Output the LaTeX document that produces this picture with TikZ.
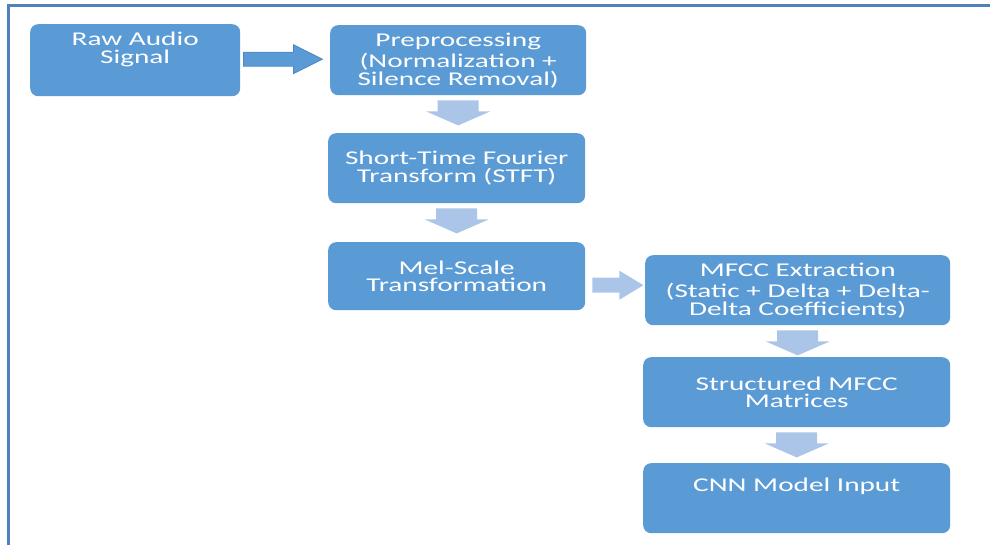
\documentclass[tikz,border=0pt]{standalone}
\usepackage{fontspec}
\newfontfamily\boxfont[FakeStretch=1.5]{Carlito}
\usetikzlibrary{calc}
\definecolor{boxblue}{HTML}{5B9BD5}
\definecolor{arrowlight}{HTML}{ABC5E8}
\definecolor{frameblue}{HTML}{4F81BD}
\definecolor{arrowedge}{HTML}{4A87C6}
\tikzset{
  box/.style={fill=boxblue, rounded corners=8pt, draw=none, inner sep=0pt,
    text=white, align=center, anchor=north west,
    font=\boxfont\fontsize{19.5}{17.5}\selectfont},
  boxtxt/.style={inner sep=0pt, text=white, align=center, anchor=north,
    font=\boxfont\fontsize{19.5}{17.5}\selectfont},
  pics/downarrow/.style={code={
    \fill[arrowlight] (-20.5,0) -- (20.5,0) -- (20.5,11) -- (32,11) -- (0,25)
      -- (-32,11) -- (-20.5,11) -- cycle;}},
  pics/rightlight/.style={code={
    \fill[arrowlight] (0,-7.5) -- (27,-7.5) -- (27,-14.5) -- (51,0) -- (27,14.5)
      -- (27,7.5) -- (0,7.5) -- cycle;}},
  pics/rightdark/.style={code={
    \filldraw[fill=boxblue, draw=arrowedge, line width=0.8pt] (0,-7) -- (50,-7)
      -- (50,-14.5) -- (79,0) -- (50,14.5) -- (50,7) -- (0,7) -- cycle;}},
}
\begin{document}
\begin{tikzpicture}[x=1pt, y=-1pt]
\useasboundingbox (0,0) rectangle (990,545);
\fill[white] (0,0) rectangle (990,545);
\draw[frameblue, line width=2.6pt] (8.5,545) -- (8.5,5.5) -- (990,5.5);

\node[box, minimum width=210pt, minimum height=72pt] (raw) at (30,24) {};
\node[boxtxt] (rawt) at ($(raw.north)+(0,8)$) {Raw Audio\\Signal};

\node[box, minimum width=256pt, minimum height=70pt] (pre) at (330,25)
  {Preprocessing\\[3pt](Normalization +\\Silence Removal)};
\node[box, minimum width=257pt, minimum height=70pt] (stft) at (328,133)
  {Short-Time Fourier\\Transform (STFT)};
\node[box, minimum width=257pt, minimum height=68pt] (mel) at (328,242)
  {Mel-Scale\\Transformation};
\node[box, minimum width=305pt, minimum height=70pt] (mfcc) at (645,255)
  {MFCC Extraction\\[4pt](Static + Delta + Delta-\\Delta Coefficients)};
\node[box, minimum width=307pt, minimum height=70pt] (struct) at (643,357)
  {Structured MFCC\\Matrices};
\node[box, minimum width=307pt, minimum height=70pt] (cnn) at (643,463) {};
\node[boxtxt] (cnnt) at ($(cnn.north)+(0,15)$) {CNN Model Input};

\pic at ($(raw.east)+(3,-1)$) {rightdark};
\pic at ($(pre.south)+(0,5)$) {downarrow};
\pic at ($(stft.south)+(0,5)$) {downarrow};
\pic at ($(mel.east)+(7,9)$) {rightlight};
\pic at ($(mfcc.south)+(0,5)$) {downarrow};
\pic at ($(struct.south)+(0,5)$) {downarrow};
\end{tikzpicture}
\end{document}
